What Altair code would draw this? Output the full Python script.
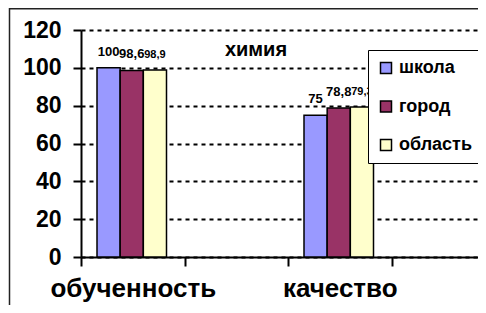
import altair as alt
import pandas as pd

# ---- data ----
x_categories = ["обученность", " ", "качество", "  "]
series = ["школа", "город", "область"]
obuchennost = [100, 98.6, 98.9]
kachestvo = [75, 78.8, 79.3]
y_ticks = [0, 20, 40, 60, 80, 100, 120]
chart_title = "химия"
colors = ["#9999FF", "#993366", "#FFFFCC"]

rows = []
for cat, vals in (("обученность", obuchennost), ("качество", kachestvo)):
    for s, v in zip(series, vals):
        rows.append({"cat": cat, "series": s, "value": v,
                     "label": f"{v:g}".replace(".", ",")})
df = pd.DataFrame(rows)

FONT = "Liberation Sans"

x_enc = alt.X("cat:N", sort=x_categories,
              scale=alt.Scale(domain=x_categories, range=[0, 414],
                              paddingInner=0, paddingOuter=0),
              axis=alt.Axis(title=None, tickBand="extent", labelAngle=0,
                            labelFont=FONT, labelFontSize=26, labelFontWeight="bold",
                            labelColor="black", labelPadding=9, tickSize=9,
                            tickWidth=2, tickColor="black", domainColor="black",
                            domainWidth=2, labelOverlap=False, labelLimit=400,
                            grid=False))
xo_enc = alt.XOffset("series:N", sort=series,
                     scale=alt.Scale(domain=series, range=[16, 85.5],
                                     paddingInner=0, paddingOuter=0))
y_enc = alt.Y("value:Q",
              scale=alt.Scale(domain=[0, 120], nice=False, zero=True),
              axis=alt.Axis(title=None, values=y_ticks, labelFont=FONT,
                            labelFontSize=23, labelFontWeight="bold",
                            labelColor="black", labelPadding=12, tickSize=8,
                            tickWidth=2, tickColor="black", domainColor="black",
                            domainWidth=2, grid=True, gridColor="black",
                            gridWidth=2, gridDash=[4, 4]))

bars = alt.Chart(df).mark_bar(stroke="black", strokeWidth=1.5).encode(
    x=x_enc, xOffset=xo_enc, y=y_enc,
    color=alt.Color("series:N", sort=series,
                    scale=alt.Scale(domain=series, range=colors),
                    legend=alt.Legend(title=None, orient="none", legendX=287,
                                      legendY=20, symbolType="square",
                                      symbolSize=121, symbolStrokeColor="black",
                                      symbolStrokeWidth=1.5, labelFont=FONT,
                                      labelFontSize=18, labelFontWeight="bold",
                                      labelColor="black", labelOffset=4,
                                      rowPadding=20.5, padding=9,
                                      strokeColor="black", fillColor="white",
                                      labelLimit=300)),
)

labels_big = alt.Chart(df).transform_filter(
    alt.datum.series != series[2]
).mark_text(font=FONT, fontWeight="bold", baseline="alphabetic",
            dy=-12, fontSize=13, color="black").encode(
    x=x_enc, xOffset=xo_enc, y=y_enc, text="label:N")

labels_small = alt.Chart(df).transform_filter(
    alt.datum.series == series[2]
).mark_text(font=FONT, fontWeight="bold", baseline="alphabetic",
            dy=-12, fontSize=11, color="black").encode(
    x=x_enc, xOffset=xo_enc, y=y_enc, text="label:N")

title_df = pd.DataFrame({"t": [chart_title]})
title = alt.Chart(title_df).mark_text(font=FONT, fontWeight="bold", fontSize=20,
                                      align="center", baseline="middle",
                                      color="black").encode(
    text="t:N", x=alt.value(175), y=alt.value(20))

frame_df = pd.DataFrame({"f": [0]})
frame_left = alt.Chart(frame_df).mark_rule(color="#222222", strokeWidth=1.5).encode(
    x=alt.value(-71.5), y=alt.value(-22), y2=alt.value(276))
frame_top = alt.Chart(frame_df).mark_rule(color="#222222", strokeWidth=1.5).encode(
    x=alt.value(-72), x2=alt.value(400), y=alt.value(-21.2))

chart = alt.layer(bars, labels_big, labels_small, title, frame_left, frame_top).properties(
    width=397, height=227,
    autosize=alt.AutoSizeParams(type="none"),
    padding={"left": 73, "top": 22, "right": 0, "bottom": 48},
    background="white",
).configure_view(stroke=None)

chart.save("out.html", embed_options={"renderer": "svg", "actions": False})
